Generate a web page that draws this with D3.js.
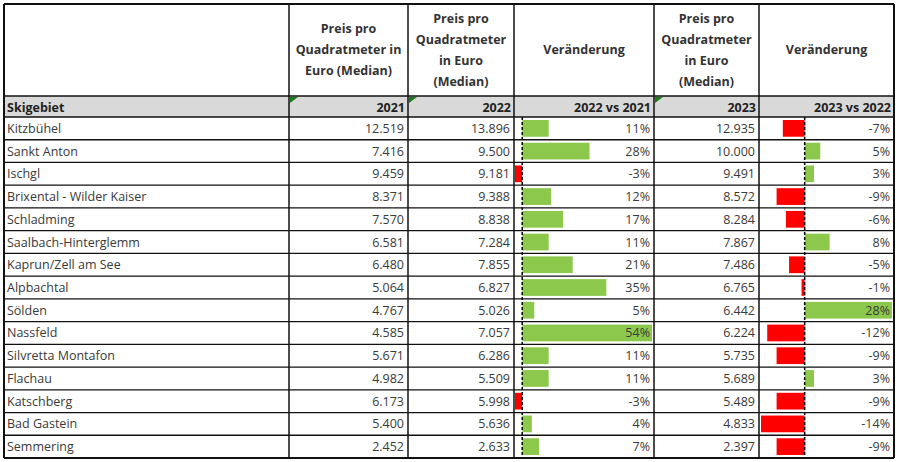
<!DOCTYPE html>
<html><head><meta charset="utf-8">
<script src="https://cdn.jsdelivr.net/npm/d3@7"></script>
<style>body{margin:0;background:#fff}svg{font-family:"Open Sans",sans-serif}</style>
</head><body><svg id="c" width="900" height="462"></svg>
<script>
const regions = ['Kitzbühel','Sankt Anton','Ischgl','Brixental - Wilder Kaiser','Schladming','Saalbach-Hinterglemm','Kaprun/Zell am See','Alpbachtal','Sölden','Nassfeld','Silvretta Montafon','Flachau','Katschberg','Bad Gastein','Semmering'];
const p2021 = ['12.519','7.416','9.459','8.371','7.570','6.581','6.480','5.064','4.767','4.585','5.671','4.982','6.173','5.400','2.452'];
const p2022 = ['13.896','9.500','9.181','9.388','8.838','7.284','7.855','6.827','5.026','7.057','6.286','5.509','5.998','5.636','2.633'];
const p2023 = ['12.935','10.000','9.491','8.572','8.284','7.867','7.486','6.765','6.442','6.224','5.735','5.689','5.489','4.833','2.397'];
const chg22 = [11,28,-3,12,17,11,21,35,5,54,11,11,-3,4,7];
const chg23 = [-7,5,3,-9,-6,8,-5,-1,28,-12,-9,3,-9,-14,-9];
const subHeads = ['Skigebiet','2021','2022','2022 vs 2021','2023','2023 vs 2022'];

const svg = d3.select('#c');
const colX = [4,289,408,514,654,759,894];
const tableTop = 4, headBottom = 96, subBottom = 117, tableBottom = 458;
const y = d3.scaleBand().domain(d3.range(regions.length)).range([subBottom, tableBottom]);
const txt = '#3a3a3a';

// header
svg.append('rect').attr('x',4).attr('y',headBottom).attr('width',890).attr('height',subBottom-headBottom).attr('fill','#d9d9d9');
const heads = [null,['Preis pro','Quadratmeter in','Euro (Median)'],['Preis pro','Quadratmeter','in Euro','(Median)'],['Veränderung'],['Preis pro','Quadratmeter','in Euro','(Median)'],['Veränderung']];
heads.forEach((h,i) => {
  if (!h) return;
  const cx = (colX[i]+colX[i+1])/2, cy = (tableTop+headBottom)/2, lh = 21;
  const t = svg.append('text').attr('text-anchor','middle').attr('font-size',12.5).attr('font-weight','bold').attr('fill','#333');
  h.forEach((s,k) => t.append('tspan').attr('x',cx).attr('y',cy + (k-(h.length-1)/2)*lh + 4).text(s));
});
subHeads.forEach((s,i) => {
  svg.append('text').attr('x', i===0 ? colX[0]+3 : colX[i+1]-3).attr('y',subBottom-5)
    .attr('text-anchor', i===0 ? 'start':'end').attr('font-size',12.5).attr('font-weight','bold').attr('fill','#222').text(s);
});
[1,2,4].forEach(i => svg.append('path').attr('d',`M${colX[i]+1},${headBottom+1}h8l-8,6z`).attr('fill','#1e7b1e'));

// bar scales
const x22 = d3.scaleLinear().domain([-3,54]).range([515,652]);
const x23 = d3.scaleLinear().domain([-14,28]).range([761,892]);
function bars(vals, x) {
  svg.append('g').selectAll('rect').data(vals).join('rect')
    .attr('x', d => x(Math.min(0,d))).attr('width', d => Math.abs(x(d)-x(0)))
    .attr('y', (d,i) => y(i)+3).attr('height', y.bandwidth()-6)
    .attr('fill', d => d<0 ? '#ff0000' : '#8cc84b');
  svg.append('line').attr('x1',x(0)).attr('x2',x(0)).attr('y1',subBottom).attr('y2',tableBottom)
    .attr('stroke','#000').attr('stroke-width',1.5).attr('stroke-dasharray','3,2');
}
bars(chg22, x22);
bars(chg23, x23);

// cells
const cols = [regions,p2021,p2022,chg22.map(d=>d+'%'),p2023,chg23.map(d=>d+'%')];
cols.forEach((c,i) => {
  svg.append('g').selectAll('text').data(c).join('text')
    .attr('x', i===0 ? colX[0]+3 : colX[i+1]-4).attr('y',(d,k)=>y(k)+y.bandwidth()/2+4.5)
    .attr('text-anchor', i===0?'start':'end').attr('font-size',12.5).attr('fill',txt).text(d=>d);
});

// grid
const g = svg.append('g').attr('stroke','#111').attr('fill','none');
[tableTop,headBottom,subBottom].concat(d3.range(1,regions.length).map(i=>y(i)),[tableBottom]).forEach(v =>
  g.append('line').attr('x1',4).attr('x2',894).attr('y1',v).attr('y2',v).attr('stroke-width',v===tableTop||v===tableBottom?2:1.3));
colX.forEach((v,i) => g.append('line').attr('x1',v).attr('x2',v).attr('y1',tableTop).attr('y2',tableBottom).attr('stroke-width',i===0||i===6?2:1.5));
</script></body></html>
